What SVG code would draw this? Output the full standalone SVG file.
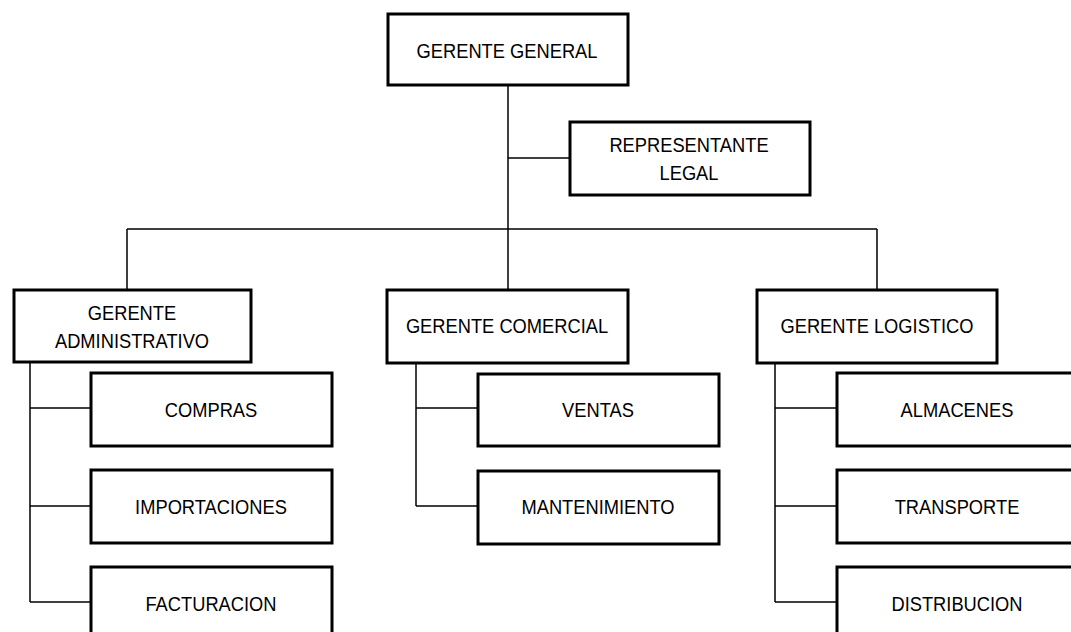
<svg xmlns="http://www.w3.org/2000/svg" width="1071" height="632" viewBox="0 0 1071 632">
<style>
.box{fill:#fff;stroke:#000;stroke-width:3}
.lbl{font-family:"Liberation Sans",Arial,sans-serif;font-size:18.3px;fill:#000;text-anchor:middle}
.con{fill:none;stroke:#000;stroke-width:1.5}
</style>
<rect width="1071" height="632" fill="#fff"/>
<g id="connectors" class="con">
<path d="M508 85V290M508 158H570M127 229H877M127 229V290M877 229V290"/>
<path d="M30 363V602M30 408H91M30 506H91M30 602H91"/>
<path d="M416 363V506M416 408H478M416 506H478"/>
<path d="M775 363V602M775 408H837M775 506H837M775 602H837"/>
</g>
<g id="gerente-general"><rect class="box" x="388" y="14" width="240" height="71"/><text class="lbl" transform="translate(507 58) scale(1 1.13)">GERENTE GENERAL</text></g>
<g id="representante-legal"><rect class="box" x="570" y="122" width="240" height="73"/><text class="lbl" transform="translate(689 152) scale(1 1.13)">REPRESENTANTE</text><text class="lbl" transform="translate(689 180) scale(1 1.13)">LEGAL</text></g>
<g id="gerente-administrativo"><rect class="box" x="14" y="290" width="237" height="72"/><text class="lbl" transform="translate(132 320) scale(1 1.13)">GERENTE</text><text class="lbl" transform="translate(132 348) scale(1 1.13)">ADMINISTRATIVO</text></g>
<g id="gerente-comercial"><rect class="box" x="387" y="290" width="241" height="73"/><text class="lbl" transform="translate(507 333) scale(1 1.13)">GERENTE COMERCIAL</text></g>
<g id="gerente-logistico"><rect class="box" x="757" y="290" width="240" height="73"/><text class="lbl" transform="translate(877 333) scale(1 1.13)">GERENTE LOGISTICO</text></g>
<g id="compras"><rect class="box" x="91" y="373" width="241" height="73"/><text class="lbl" transform="translate(211 417) scale(1 1.13)">COMPRAS</text></g>
<g id="importaciones"><rect class="box" x="91" y="470" width="241" height="73"/><text class="lbl" transform="translate(211 514) scale(1 1.13)">IMPORTACIONES</text></g>
<g id="facturacion"><rect class="box" x="91" y="567" width="241" height="73"/><text class="lbl" transform="translate(211 611) scale(1 1.13)">FACTURACION</text></g>
<g id="ventas"><rect class="box" x="478" y="374" width="241" height="72"/><text class="lbl" transform="translate(598 417) scale(1 1.13)">VENTAS</text></g>
<g id="mantenimiento"><rect class="box" x="478" y="471" width="241" height="73"/><text class="lbl" transform="translate(598 514) scale(1 1.13)">MANTENIMIENTO</text></g>
<g id="almacenes"><rect class="box" x="837" y="373" width="241" height="73"/><text class="lbl" transform="translate(957 417) scale(1 1.13)">ALMACENES</text></g>
<g id="transporte"><rect class="box" x="837" y="470" width="241" height="73"/><text class="lbl" transform="translate(957 514) scale(1 1.13)">TRANSPORTE</text></g>
<g id="distribucion"><rect class="box" x="837" y="567" width="241" height="73"/><text class="lbl" transform="translate(957 611) scale(1 1.13)">DISTRIBUCION</text></g>
</svg>
